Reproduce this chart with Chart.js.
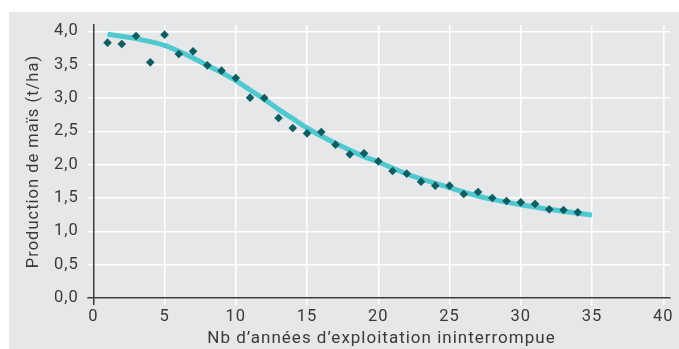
<!DOCTYPE html>
<html>
<head>
<meta charset="utf-8">
<script src="https://cdn.jsdelivr.net/npm/chart.js@4"></script>
<style>
  html, body { margin: 0; padding: 0; background: #ffffff; }
  #wrap { position: relative; width: 679px; height: 349px; }
  canvas { display: block; }
</style>
</head>
<body>
<div id="wrap"><canvas id="c" width="679" height="349"></canvas></div>
<script>
// ---- Data ----
const years = [1,2,3,4,5,6,7,8,9,10,11,12,13,14,15,16,17,18,19,20,21,22,23,24,25,26,27,28,29,30,31,32,33,34];
const production = [3.83,3.81,3.93,3.535,3.95,3.66,3.70,3.49,3.41,3.30,3.005,3.00,2.70,2.55,2.47,2.49,2.30,2.155,2.17,2.05,1.905,1.865,1.745,1.685,1.685,1.56,1.59,1.50,1.455,1.435,1.41,1.33,1.32,1.285];
const trendX = [1,2,3,4,5,6,7,8,9,10,11,12,13,14,15,16,17,19,20,22,25,27,28,30,32,35];
const trendY = [3.955,3.925,3.89,3.845,3.79,3.70,3.60,3.49,3.38,3.26,3.12,2.98,2.83,2.69,2.55,2.43,2.32,2.12,2.04,1.86,1.655,1.53,1.48,1.40,1.33,1.245];
const xTicks = [0,5,10,15,20,25,30,35,40];
const yTicks = [0,0.5,1,1.5,2,2.5,3,3.5,4];
const xTitle = "Nb d\u2019ann\u00e9es d\u2019exploitation ininterrompue";
const yTitle = "Production de ma\u00efs (t/ha)";

const pointsData = years.map((x, i) => ({x: x, y: production[i]}));
const trendData = trendX.map((x, i) => ({x: x, y: trendY[i]}));

const FONT = "Roboto, 'Liberation Sans', Arial, sans-serif";
const TEXT = '#3a3a3a';
const AXIS = '#3a3a3a';

const panelBg = {
  id: 'panelBg',
  beforeLayout(chart) { chart.ctx.letterSpacing = '1px'; },
  beforeDraw(chart) {
    const ctx = chart.ctx;
    ctx.letterSpacing = '1px';
    ctx.save();
    ctx.fillStyle = '#e6e7e8';
    ctx.fillRect(9, 12, chart.width - 9, chart.height - 12);
    ctx.restore();
  }
};

new Chart(document.getElementById('c'), {
  type: 'scatter',
  data: {
    datasets: [
      {
        label: 'Production',
        data: pointsData,
        pointStyle: 'rectRot',
        pointRadius: 4.3,
        pointHoverRadius: 4.3,
        backgroundColor: '#0e5d62',
        borderColor: '#0e5d62',
        borderWidth: 0,
        showLine: false
      },
      {
        label: 'Tendance',
        data: trendData,
        showLine: true,
        pointRadius: 0,
        borderColor: '#4fc9cf',
        borderWidth: 5,
        borderCapStyle: 'butt',
        cubicInterpolationMode: 'monotone',
        fill: false
      }
    ]
  },
  options: {
    responsive: false,
    animation: false,
    devicePixelRatio: 1,
    layout: { padding: { left: 0, top: 25, right: 9.3, bottom: 0 } },
    plugins: {
      legend: { display: false },
      tooltip: { enabled: false }
    },
    scales: {
      x: {
        type: 'linear',
        min: 0,
        max: 40.45,
        afterFit(scale) { scale.height = 51; },
        afterBuildTicks(scale) { scale.ticks = xTicks.map(v => ({value: v})); },
        ticks: {
          includeBounds: false,
          stepSize: 5,
          padding: 2,
          color: TEXT,
          font: { family: FONT, size: 16.5 },
          maxRotation: 0
        },
        grid: {
          color: '#ffffff',
          lineWidth: 1.5,
          tickLength: 7,
          tickColor: ctx => (ctx.tick && ctx.tick.value === 0) ? AXIS : '#ffffff',
          tickWidth: 1.5
        },
        border: { display: true, color: AXIS, width: 1.5 },
        title: {
          display: true,
          text: xTitle,
          color: TEXT,
          font: { family: FONT, size: 17 },
          padding: { top: 0, bottom: 0.5 }
        }
      },
      y: {
        type: 'linear',
        min: 0,
        max: 4.095,
        afterFit(scale) { scale.width = 93.3; },
        afterBuildTicks(scale) { scale.ticks = yTicks.map(v => ({value: v})); },
        ticks: {
          includeBounds: false,
          stepSize: 0.5,
          padding: 8.6,
          color: TEXT,
          font: { family: FONT, size: 16.5 },
          callback: v => v.toFixed(1).replace('.', ',')
        },
        grid: {
          color: '#ffffff',
          lineWidth: 1.5,
          tickLength: 6,
          tickColor: ctx => (ctx.tick && ctx.tick.value === 0) ? AXIS : '#ffffff',
          tickWidth: 1.5
        },
        border: { display: true, color: AXIS, width: 1.5 },
        title: {
          display: true,
          text: yTitle,
          color: TEXT,
          font: { family: FONT, size: 16.5 },
          padding: { top: 24, bottom: 0 }
        }
      }
    }
  },
  plugins: [panelBg]
});
</script>
</body>
</html>
